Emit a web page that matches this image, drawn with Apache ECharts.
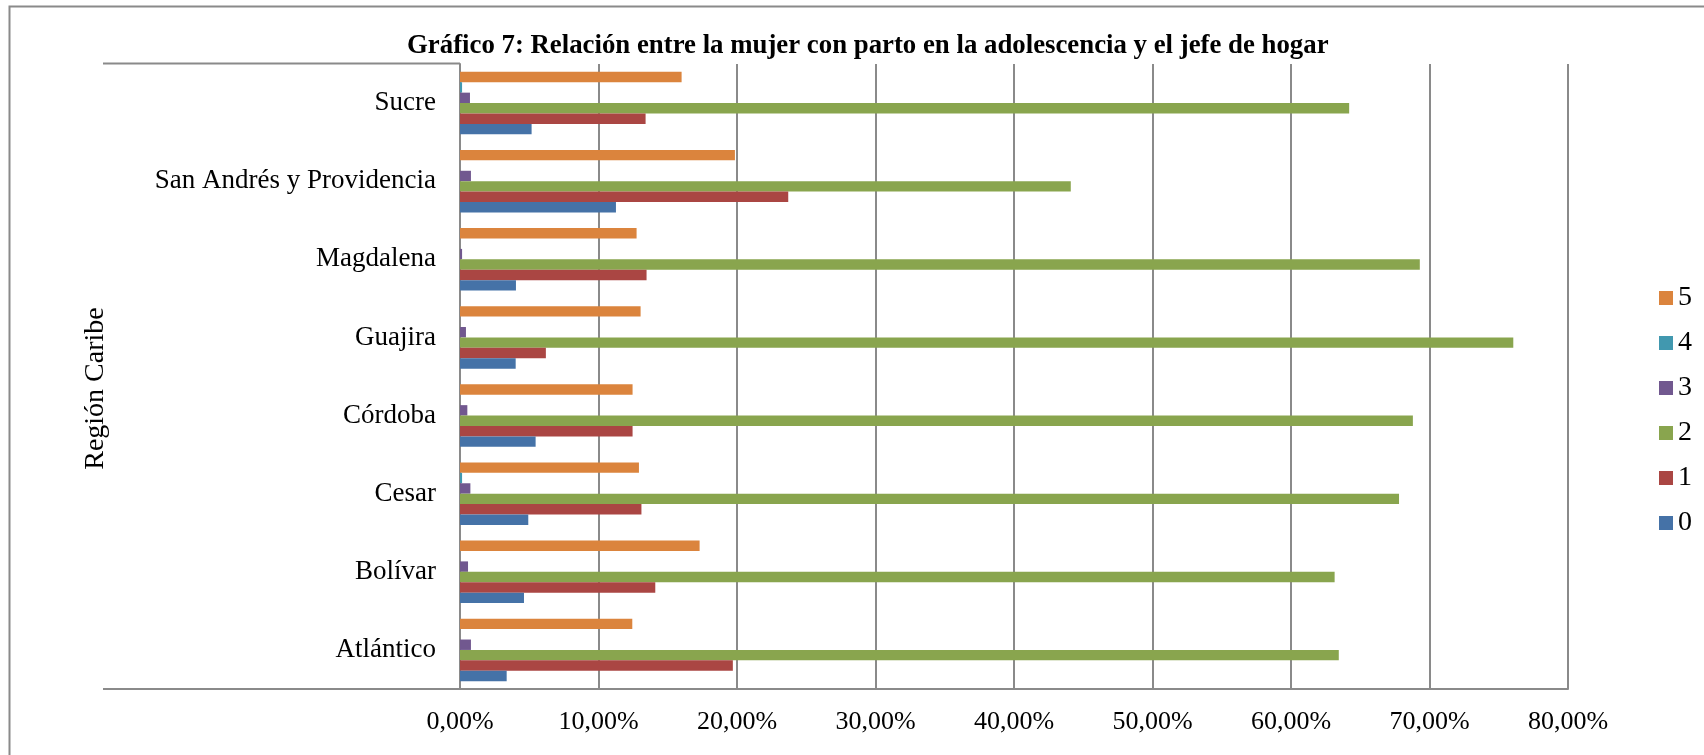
<!DOCTYPE html>
<html>
<head>
<meta charset="utf-8">
<script src="https://cdn.jsdelivr.net/npm/echarts@6/dist/echarts.min.js"></script>
<style>
html,body{margin:0;padding:0;background:#fff;}
#chart{width:1704px;height:755px;}
</style>
</head>
<body>
<div id="chart"></div>
<script>
// Categories (bottom to top as drawn)
const categories = ['Atlántico', 'Bolívar', 'Cesar', 'Córdoba', 'Guajira', 'Magdalena', 'San Andrés y Providencia', 'Sucre'];
// Series values (percent), same order as categories
const s0 = [3.37, 4.62, 4.93, 5.46, 4.02, 4.04, 11.26, 5.17];
const s1 = [19.7, 14.1, 13.1, 12.46, 6.2, 13.47, 23.7, 13.4];
const s2 = [63.45, 63.15, 67.8, 68.8, 76.05, 69.3, 44.1, 64.2];
const s3 = [0.79, 0.58, 0.75, 0.53, 0.43, 0.15, 0.79, 0.72];
const s4 = [0, 0, 0.15, 0, 0, 0, 0, 0.15];
const s5 = [12.44, 17.3, 12.92, 12.46, 13.04, 12.75, 19.85, 16.0];
const seriesNames = ['5', '4', '3', '2', '1', '0'];
const seriesValues = [s5, s4, s3, s2, s1, s0];
const seriesColors = ['#DB843D', '#4198AF', '#71588F', '#89A54E', '#AA4643', '#4572A7'];
const xTicks = [0, 10, 20, 30, 40, 50, 60, 70, 80];

const FONT = '"Liberation Serif", "Times New Roman", serif';
const chart = echarts.init(document.getElementById('chart'), null, {renderer: 'canvas'});

const series = seriesNames.map((n, i) => ({
  name: n,
  type: 'bar',
  data: seriesValues[i],
  barGap: '0%',
  barCategoryGap: '20%',
  itemStyle: {color: seriesColors[i]},
  silent: true
}));

chart.setOption({
  animation: false,
  backgroundColor: '#fff',
  title: {
    text: 'Gráfico 7: Relación entre la mujer con parto en la adolescencia y el jefe de hogar',
    left: 402,
    top: 28,
    textStyle: {fontFamily: FONT, fontSize: 26.8, fontWeight: 'bold', color: '#000'}
  },
  legend: {
    orient: 'vertical',
    left: 1654,
    top: 279,
    itemWidth: 14,
    itemHeight: 14,
    itemGap: 17,
    icon: 'rect',
    data: seriesNames,
    textStyle: {fontFamily: FONT, fontSize: 28, color: '#000'}
  },
  grid: {left: 460, right: 136, top: 64, bottom: 66, containLabel: false},
  xAxis: {
    type: 'value',
    min: xTicks[0],
    max: xTicks[xTicks.length - 1],
    interval: 10,
    axisLine: {show: true, lineStyle: {color: '#8a8a8a', width: 2}},
    axisTick: {show: false},
    splitLine: {show: true, lineStyle: {color: '#8a8a8a', width: 2}},
    axisLabel: {
      margin: 20,
      fontFamily: FONT, fontSize: 26, color: '#000',
      formatter: v => v.toFixed(2).replace('.', ',') + '%'
    }
  },
  yAxis: {
    type: 'category',
    data: categories,
    name: 'Región Caribe',
    nameLocation: 'middle',
    nameRotate: 90,
    nameGap: 350,
    nameTextStyle: {fontFamily: FONT, fontSize: 28, color: '#000', padding: [0, 24, 0, 0]},
    axisLine: {show: true, lineStyle: {color: '#8a8a8a', width: 2}},
    axisTick: {show: false},
    axisLabel: {margin: 24, fontFamily: FONT, fontSize: 27, color: '#000'}
  },
  graphic: [
    {type: 'rect', shape: {x: 9.5, y: 6.5, width: 2000, height: 2000}, style: {fill: 'none', stroke: '#8a8a8a', lineWidth: 2}, silent: true},
    {type: 'line', shape: {x1: 103, y1: 63.5, x2: 460, y2: 63.5}, style: {stroke: '#8a8a8a', lineWidth: 2}, silent: true},
    {type: 'line', shape: {x1: 103, y1: 689, x2: 460, y2: 689}, style: {stroke: '#8a8a8a', lineWidth: 2}, silent: true}
  ],
  series: series
});
</script>
</body>
</html>
